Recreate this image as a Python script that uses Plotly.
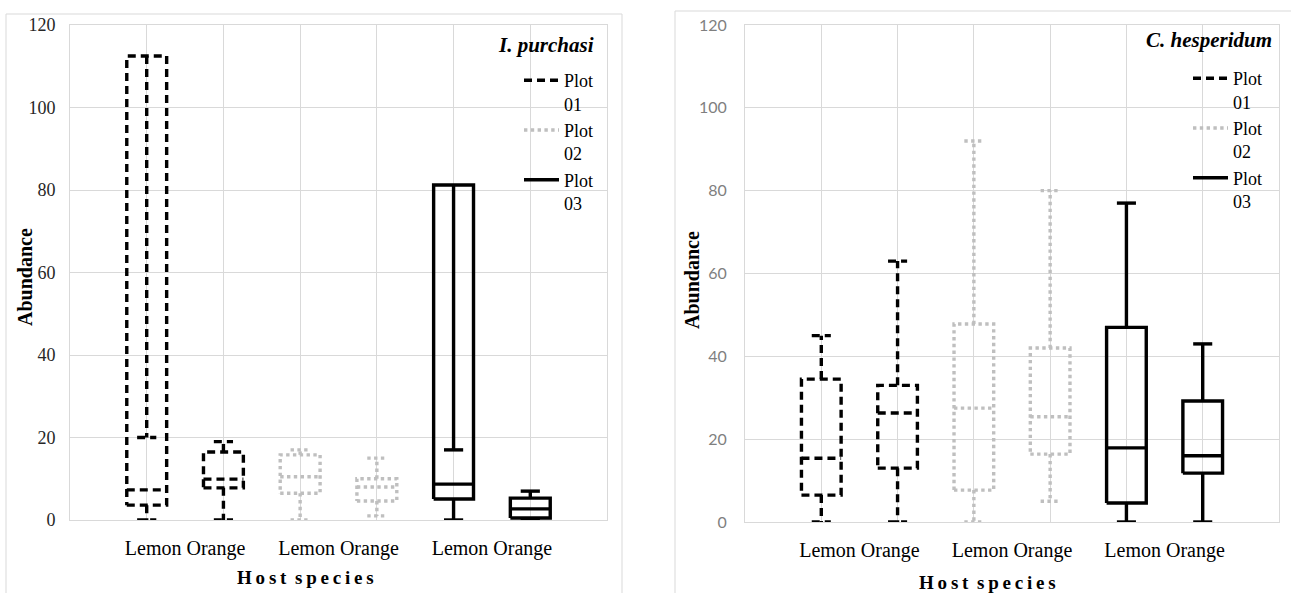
import plotly.graph_objects as go

# ---------------- data ----------------
hosts = ["Lemon", "Orange"]
plot_names = ["Plot 01", "Plot 02", "Plot 03"]
species = ["I. purchasi", "C. hesperidum"]
category_label = "Lemon Orange"
x_title = "Host species"
y_title = "Abundance"

# order: Plot01 Lemon, Plot01 Orange, Plot02 Lemon, Plot02 Orange, Plot03 Lemon, Plot03 Orange
ip_lower = [0, 0, 0, 1, 0, 0]
ip_q1 = [3.6, 7.8, 6.5, 4.6, 5.1, 0.5]
ip_median = [7.3, 9.9, 10.5, 8.0, 8.7, 2.7]
ip_q3 = [112.5, 16.5, 15.8, 10.0, 81.2, 5.3]
ip_upper = [20, 19, 17, 15, 17, 7]

ch_lower = [0, 0, 0, 5, 0, 0]
ch_q1 = [6.5, 13.0, 7.7, 16.4, 4.6, 11.8]
ch_median = [15.4, 26.3, 27.5, 25.4, 17.9, 16.0]
ch_q3 = [34.5, 33.0, 47.8, 42.0, 47.0, 29.2]
ch_upper = [45, 63, 92, 80, 77, 43]

y_ticks = [0, 20, 40, 60, 80, 100, 120]

# ---------------- style ----------------
W, H = 1291, 593
SERIF = "Liberation Serif"
GRID = "#d9d9d9"
styles = [
    dict(color="#000000", dash="8px,5px"),
    dict(color="#bfbfbf", dash="dot"),
    dict(color="#000000", dash="solid"),
]
LW = 3.4
BOX_W = 0.52
CAP_W = 0.25


def px(x):
    return x / W


def py(y):
    return 1 - y / H


def spaced(text):
    # letter-spaced title: thin spaces between letters, wider gap between words
    words = text.split(" ")
    return " \u2009".join("\u2009".join(w) for w in words)


def box_path(pos, lf, q1, med, q3, uf):
    a, b = pos - BOX_W / 2, pos + BOX_W / 2
    c0, c1 = pos - CAP_W / 2, pos + CAP_W / 2
    xs = [a, b, b, a, a, None, a, b, None,
          pos, pos, None, c0, c1, None,
          pos, pos, None, c0, c1, None]
    ys = [q1, q1, q3, q3, q1, None, med, med, None,
          q1, lf, None, lf, lf, None,
          q3, uf, None, uf, uf, None]
    return xs, ys


panels = [
    dict(lower=ip_lower, q1=ip_q1, med=ip_median, q3=ip_q3, upper=ip_upper,
         xa="x", ya="y", legend="legend"),
    dict(lower=ch_lower, q1=ch_q1, med=ch_median, q3=ch_q3, upper=ch_upper,
         xa="x2", ya="y2", legend="legend2"),
]

fig = go.Figure()
for pan in panels:
    for p, name in enumerate(plot_names):
        xs, ys = [], []
        for h in range(len(hosts)):
            i = 2 * p + h
            bx, by = box_path(i + 1, pan["lower"][i], pan["q1"][i], pan["med"][i],
                              pan["q3"][i], pan["upper"][i])
            xs += bx
            ys += by
        st = styles[p]
        fig.add_trace(go.Scatter(
            x=xs, y=ys, mode="lines", xaxis=pan["xa"], yaxis=pan["ya"],
            line=dict(color=st["color"], width=LW, dash=st["dash"]),
            showlegend=False, hoverinfo="skip"))
    for p, name in enumerate(plot_names):
        st = styles[p]
        fig.add_trace(go.Scatter(
            x=[None], y=[None], mode="lines", xaxis=pan["xa"], yaxis=pan["ya"],
            line=dict(color=st["color"], width=LW, dash=st["dash"]),
            name=name.replace(" ", "<br>"), legend=pan["legend"], showlegend=True))

xcommon = dict(range=[0, 7], tickmode="array", tickvals=[1.5, 3.5, 5.5],
               ticktext=[category_label] * 3, showgrid=False, zeroline=False,
               ticks="", ticklabelstandoff=10, automargin=False,
               tickfont=dict(family=SERIF, size=20, color="#000000"),
               minor=dict(tickmode="array", tickvals=list(range(8)), showgrid=True,
                          gridcolor=GRID, gridwidth=1, ticks=""),
               showline=True, linecolor=GRID, linewidth=1, mirror=True, fixedrange=True)
ycommon = dict(range=[0, 120], tickmode="array", tickvals=y_ticks, showgrid=True,
               gridcolor=GRID, gridwidth=1, zeroline=False, ticks="", automargin=False,
               showline=True, linecolor=GRID, linewidth=1, mirror=True, fixedrange=True)

fig.update_layout(
    width=W, height=H, margin=dict(l=0, r=0, t=0, b=0, pad=0, autoexpand=False),
    paper_bgcolor="white", plot_bgcolor="white", showlegend=True,
    font=dict(family=SERIF, color="#000000"),
    xaxis=dict(domain=[px(70), px(607)], anchor="y", **xcommon),
    yaxis=dict(domain=[py(520), py(25)], anchor="x", ticklabelstandoff=10,
               tickfont=dict(family=SERIF, size=18, color="#262626"), **ycommon),
    xaxis2=dict(domain=[px(745), px(1279)], anchor="y2", **xcommon),
    yaxis2=dict(domain=[py(522), py(25)], anchor="x2", ticklabelstandoff=14,
                tickfont=dict(family="Lato", size=16, color="#7f7f7f"),
                **ycommon),
    legend=dict(x=px(519), y=py(62), xanchor="left", yanchor="top", valign="top",
                bgcolor="rgba(0,0,0,0)", font=dict(family=SERIF, size=18, color="#000000"),
                itemwidth=35, tracegroupgap=0),
    legend2=dict(x=px(1188), y=py(60), xanchor="left", yanchor="top", valign="top",
                 bgcolor="rgba(0,0,0,0)", font=dict(family=SERIF, size=18, color="#000000"),
                 itemwidth=35, tracegroupgap=0),
    shapes=[
        dict(type="rect", xref="paper", yref="paper", x0=px(6), x1=px(622),
             y0=-0.2, y1=py(14), line=dict(color=GRID, width=1), layer="below"),
        dict(type="rect", xref="paper", yref="paper", x0=px(675), x1=1.2,
             y0=-0.2, y1=py(11), line=dict(color=GRID, width=1), layer="below"),
    ],
    annotations=[
        dict(text="<b><i>" + species[0] + "</i></b>", xref="paper", yref="paper",
             x=px(596), y=py(45), xanchor="right", yanchor="middle", showarrow=False,
             font=dict(family=SERIF, size=21, color="#000000")),
        dict(text="<b><i>" + species[1] + "</i></b>", xref="paper", yref="paper",
             x=px(1274), y=py(40), xanchor="right", yanchor="middle", showarrow=False,
             font=dict(family=SERIF, size=21, color="#000000")),
        dict(text="<b>" + y_title + "</b>", xref="paper", yref="paper", x=px(25), y=py(277),
             xanchor="center", yanchor="middle", textangle=-90, showarrow=False,
             font=dict(family=SERIF, size=20, color="#000000")),
        dict(text="<b>" + y_title + "</b>", xref="paper", yref="paper", x=px(692), y=py(280),
             xanchor="center", yanchor="middle", textangle=-90, showarrow=False,
             font=dict(family=SERIF, size=20, color="#000000")),
        dict(text="<b>" + spaced(x_title) + "</b>", xref="paper", yref="paper",
             x=px(305), y=py(577), xanchor="center", yanchor="middle", showarrow=False,
             font=dict(family=SERIF, size=19, color="#000000")),
        dict(text="<b>" + spaced(x_title) + "</b>", xref="paper", yref="paper",
             x=px(987), y=py(582), xanchor="center", yanchor="middle", showarrow=False,
             font=dict(family=SERIF, size=19, color="#000000")),
    ],
)

fig.write_html(
    "out.html",
    config={"displayModeBar": False},
    post_script="document.body.style.margin='0';"
                "document.body.style.overflow='hidden';"
                "document.documentElement.style.overflow='hidden';",
)
